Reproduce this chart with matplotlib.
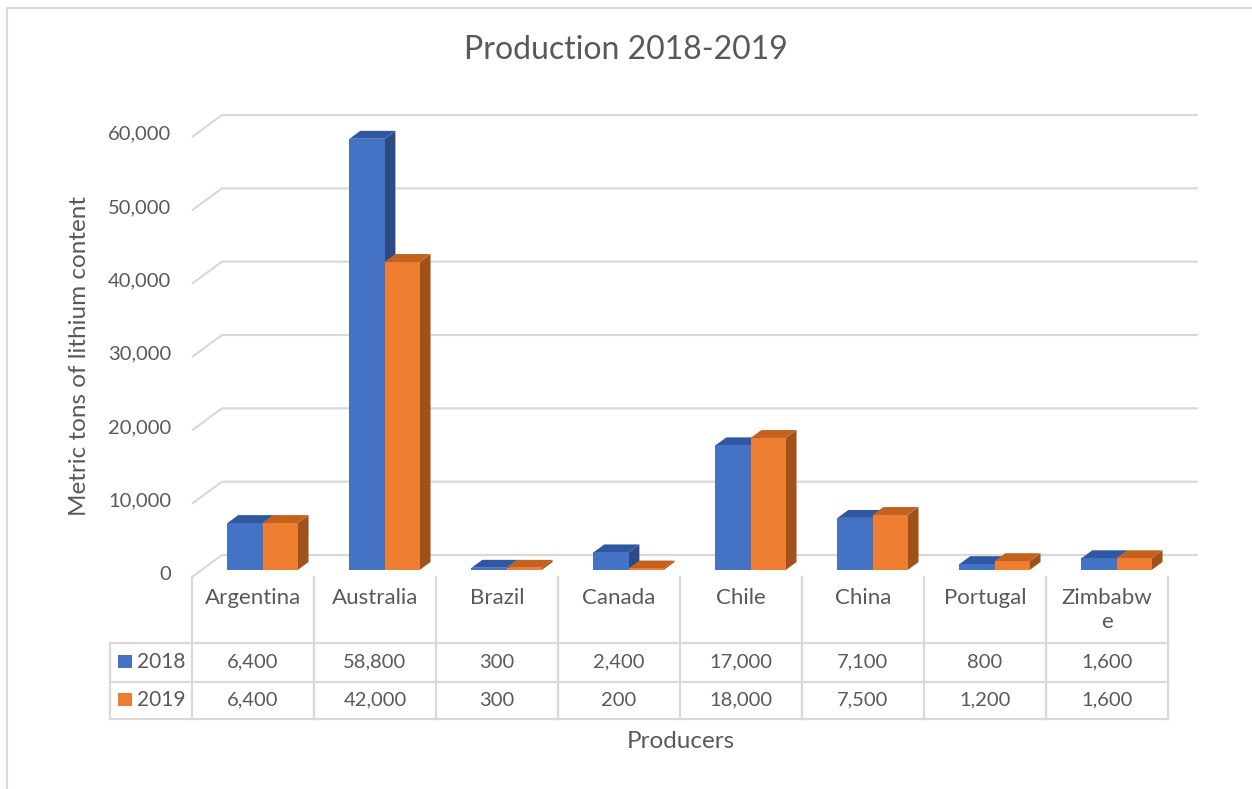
import matplotlib
matplotlib.use("Agg")
import matplotlib.pyplot as plt
from matplotlib.patches import Polygon, Rectangle
from matplotlib.transforms import blended_transform_factory
import numpy as np

categories = ["Argentina", "Australia", "Brazil", "Canada", "Chile", "China", "Portugal", "Zimbabwe"]
header_labels = ["Argentina", "Australia", "Brazil", "Canada", "Chile", "China", "Portugal", "Zimbabw\ne"]
series_names = ["2018", "2019"]
values_2018 = [6400, 58800, 300, 2400, 17000, 7100, 800, 1600]
values_2019 = [6400, 42000, 300, 200, 18000, 7500, 1200, 1600]
y_ticks = [0, 10000, 20000, 30000, 40000, 50000, 60000]

title = "Production 2018-2019"
y_label = "Metric tons of lithium content"
x_label = "Producers"

plt.rcParams['font.family'] = ['Lato', 'DejaVu Sans']
TXT = "#595959"
GRID = "#D9D9D9"
front_cols = ["#4472C4", "#ED7D31"]
top_cols = ["#3058A2", "#C3621F"]
side_cols = ["#2C4B86", "#A0521C"]

W, H = 1252, 789
fig = plt.figure(figsize=(W / 100, H / 100), dpi=100)
fx = lambda px: px / W
fy = lambda py: 1 - py / H

ax = fig.add_axes([fx(192), fy(577), fx(1168) - fx(192), fy(137) - fy(577)])
n = len(categories)
ax.set_xlim(-0.5, n - 0.5)
ax.set_ylim(0, 60000)
ax.axis('off')

# depth vector (30 px right, 22 px up) converted into data units
o = ax.transData.transform((0, 0))
b = ax.transData.inverted().transform((o[0] + 30, o[1] + 22))
DX, DY = b[0], b[1]

tick_tr = blended_transform_factory(fig.transFigure, ax.transData)
x0, x1 = -0.5, n - 0.5
for v in y_ticks:
    ax.plot([x0, x0 + DX, x1 + DX], [v, v + DY, v + DY], color=GRID, lw=1.6,
            clip_on=False, zorder=1, solid_capstyle='butt')
    ax.text(fx(171), v + 400, f"{v:,}", ha='right', va='center', color=TXT,
            fontsize=14.5, clip_on=False, transform=tick_tr)

# 3D bars
tf, tb = 0.32, 0.68
bw = 0.288
for i in range(n):
    for s, vals in enumerate([values_2018, values_2019]):
        h = vals[i]
        xl = i - bw + s * bw + tf * DX
        xr = xl + bw
        yb = tf * DY
        yt = h + tf * DY
        d = (tb - tf)
        ddx, ddy = d * DX, d * DY
        ax.add_patch(Polygon([(xr, yb), (xr + ddx, yb + ddy), (xr + ddx, yt + ddy), (xr, yt)],
                             closed=True, facecolor=side_cols[s], edgecolor='none',
                             clip_on=False, zorder=2 + i * 2 + s))
        ax.add_patch(Polygon([(xl, yt), (xr, yt), (xr + ddx, yt + ddy), (xl + ddx, yt + ddy)],
                             closed=True, facecolor=top_cols[s], edgecolor='none',
                             clip_on=False, zorder=2 + i * 2 + s))
        ax.add_patch(Rectangle((xl, yb), bw, h, facecolor=front_cols[s], edgecolor='none',
                               clip_on=False, zorder=2 + i * 2 + s))

# data table (x in data units, y in figure fraction)
tr = blended_transform_factory(ax.transData, fig.transFigure)
leg_left = -0.5 - 82 / 122
for k in range(n + 1):
    ax.plot([k - 0.5, k - 0.5], [fy(577), fy(719)], color=GRID, lw=1.6,
            transform=tr, clip_on=False)
ax.plot([leg_left, leg_left], [fy(643), fy(719)], color=GRID, lw=1.6, transform=tr, clip_on=False)
for py in [643, 682, 719]:
    ax.plot([leg_left, n - 0.5], [fy(py), fy(py)], color=GRID, lw=1.6, transform=tr,
            clip_on=False)

for i, lab in enumerate(header_labels):
    ax.text(i, fy(588), lab, ha='center', va='top', color=TXT, fontsize=16,
            transform=tr, linespacing=1.25)
for r, (vals, py) in enumerate([(values_2018, 662), (values_2019, 700)]):
    for i, v in enumerate(vals):
        ax.text(i, fy(py), f"{v:,}", ha='center', va='center', color=TXT, fontsize=14.5,
                transform=tr)
    fig.patches.append(Rectangle((fx(118), fy(py + 6)), fx(14), fy(py - 7) - fy(py + 6),
                                 facecolor=front_cols[r], edgecolor='none',
                                 transform=fig.transFigure, figure=fig))
    fig.text(fx(137), fy(py), series_names[r], ha='left', va='center', color=TXT, fontsize=15)

fig.text(fx(626), fy(50), title, ha='center', va='center', color=TXT, fontsize=23)
fig.text(fx(80), fy(356), y_label, ha='center', va='center', rotation=90, color=TXT, fontsize=17.5)
fig.text(fx(681), fy(741), x_label, ha='center', va='center', color=TXT, fontsize=17.5)

# chart border (left and top visible)
fig.add_artist(plt.Line2D([fx(7), fx(7), fx(1252)], [fy(789), fy(8), fy(8)],
                          color=GRID, lw=1.5, transform=fig.transFigure))

fig.savefig("out.png", dpi=100, facecolor='white')
